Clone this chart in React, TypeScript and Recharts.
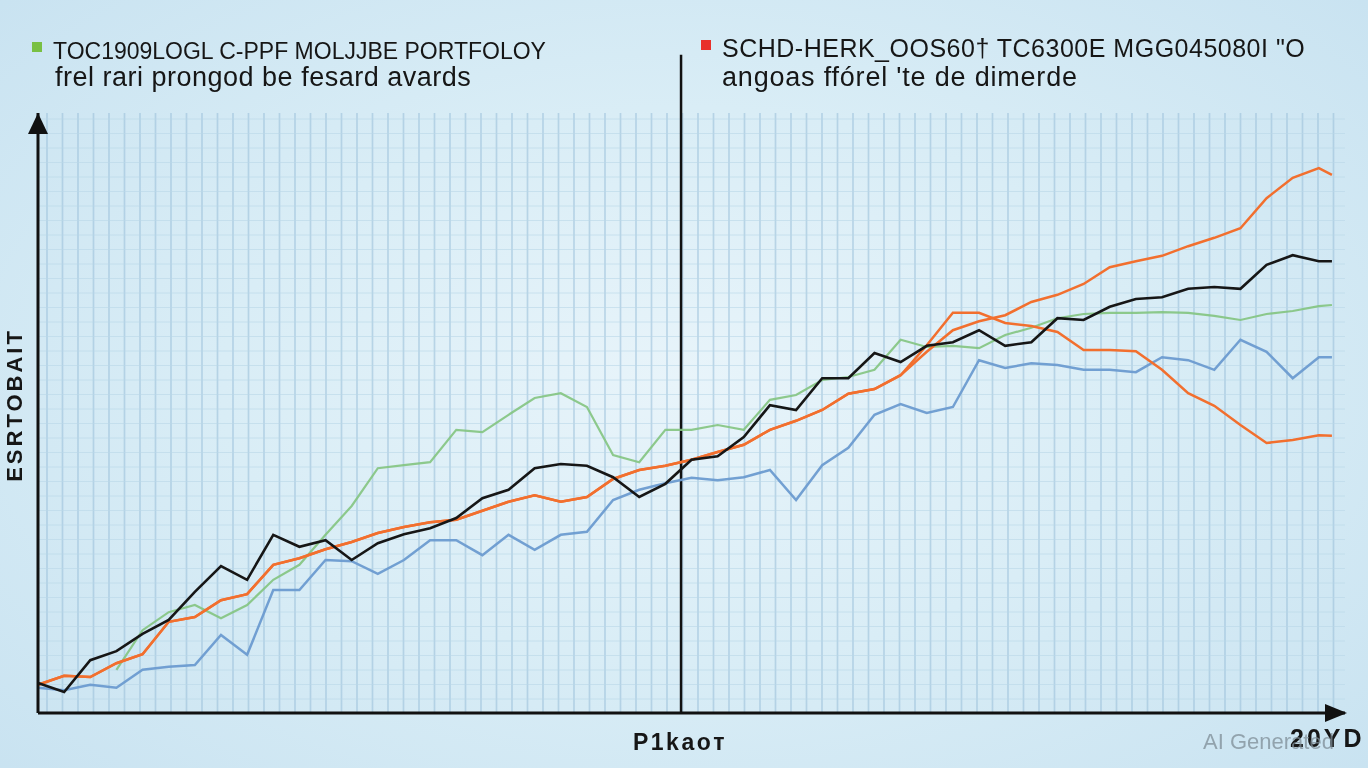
import React from "react";
import { LineChart, Line, XAxis, YAxis, CartesianGrid, ReferenceLine, ReferenceDot } from "recharts";

// x positions (time steps)
const T = [0,2,4,6,8,10,12,14,16,18,20,22,24,26,28,30,32,34,36,38,40,42,44,46,48,50,52,54,56,58,60,62,64,66,68,70,72,74,76,78,80,82,84,86,88,90,92,94,96,98,99];

const BLACK = [5.0,3.5,8.8,10.3,13.2,15.5,20.2,24.5,22.2,29.7,27.7,28.8,25.5,28.3,29.8,30.8,32.5,35.8,37.2,40.8,41.5,41.2,39.3,36.0,38.2,42.2,42.8,46.0,51.3,50.5,55.8,55.8,60.0,58.5,61.2,61.8,63.8,61.2,61.8,65.8,65.5,67.7,69.0,69.3,70.7,71.0,70.7,74.7,76.3,75.3,75.3];

const ORANGE_SHARED = [4.7,6.2,6.0,8.3,9.8,15.2,16.0,18.8,19.8,24.7,25.8,27.3,28.5,30.0,31.0,31.8,32.2,33.7,35.2,36.3,35.2,36.0,39.0,40.5,41.2,42.2,43.5,44.7,47.2,48.7,50.5,53.2,54.0,56.3];
const ORANGE_UP = [60.2,63.8,65.3,66.3,68.5,69.7,71.5,74.3,75.3,76.2,77.8,79.2,80.8,85.8,89.2,90.8,89.7];
const ORANGE_DOWN = [61.3,66.7,66.7,65.0,64.5,63.5,60.5,60.5,60.3,57.2,53.3,51.2,48.0,45.0,45.5,46.3,46.2];

const GREEN = [null,null,null,7.2,13.8,16.8,18.0,15.8,18.0,22.2,24.7,29.7,34.5,40.8,41.3,41.8,47.2,46.8,49.7,52.5,53.3,51.0,43.0,41.8,47.2,47.2,48.0,47.2,52.2,53.0,55.5,56.0,57.2,62.2,61.0,61.2,60.8,63.0,64.2,65.8,66.5,66.7,66.7,66.8,66.7,66.2,65.5,66.5,67.0,67.8,68.0];

const BLUE = [4.2,3.8,4.7,4.2,7.2,7.7,8.0,13.0,9.7,20.5,20.5,25.5,25.3,23.2,25.5,28.8,28.8,26.3,29.7,27.2,29.7,30.2,35.5,37.2,38.3,39.2,38.8,39.3,40.5,35.5,41.3,44.2,49.7,51.5,50.0,51.0,58.8,57.5,58.3,58.0,57.2,57.2,56.8,59.3,58.8,57.2,62.2,60.2,55.8,59.3,59.3];

const DIVIDER_X = 49.2;

const LEGEND_1 = ["TOC1909LOGL C-PPF MOLJJBE PORTFOLOY", "frel rari prongod be fesard avards"];
const LEGEND_2 = ["SCHD-HERK_OOS60† TC6300E MGG045080I \"O", "angoas ffórel 'te de dimerde"];
const Y_LABEL = "ESRTOBAIT";
const X_LABEL = "P1kaoт";
const X_END_LABEL = "20YD";
const WATERMARK = "AI Generated";

const ORANGE_UP_FULL = [...ORANGE_SHARED, ...ORANGE_UP];
const ORANGE_DOWN_FULL = [...ORANGE_SHARED, ...ORANGE_DOWN];

const data = T.map((t, i) => ({
  t,
  black: BLACK[i],
  orangeUp: ORANGE_UP_FULL[i],
  orangeDown: ORANGE_DOWN_FULL[i],
  green: GREEN[i],
  blue: BLUE[i],
}));

const FONT = '"Liberation Sans", Arial, Helvetica, sans-serif';

const vGen = (props: any) => {
  const off = props && props.offset ? props.offset : { left: 38, width: 1307 };
  const arr: number[] = [];
  for (let x = off.left + 9; x < off.left + off.width - 5; x += 15.5) arr.push(x);
  return arr;
};
const hGen = (props: any) => {
  const off = props && props.offset ? props.offset : { top: 113, height: 600 };
  const arr: number[] = [];
  for (let y = off.top + off.height - 14; y > off.top; y -= 14.5) arr.push(y);
  return arr;
};

const ArrowRight = (p: any) => {
  const { cx, cy } = p;
  if (cx == null || cy == null) return null;
  return <path d={`M${cx - 20},${cy - 9} L${cx + 2},${cy} L${cx - 20},${cy + 9} Z`} fill="#111" />;
};
const ArrowUp = (p: any) => {
  const { cx, cy } = p;
  if (cx == null || cy == null) return null;
  return <path d={`M${cx - 10},${cy + 21} L${cx},${cy} L${cx + 10},${cy + 21} Z`} fill="#111" />;
};

const txt = (extra: React.CSSProperties): React.CSSProperties => ({
  position: "absolute",
  whiteSpace: "nowrap",
  fontFamily: FONT,
  color: "#161616",
  ...extra,
});

export default function App() {
  return (
    <div
      style={{
        position: "fixed",
        left: 0,
        top: 0,
        width: 1368,
        height: 768,
        overflow: "hidden",
        background:
          "radial-gradient(ellipse 75% 80% at 50% 50%, #e8f4fa 0%, #d9edf6 45%, #c6e1f0 100%)",
      }}
    >
      <div style={{ position: "absolute", left: 0, top: 0 }}>
        <LineChart width={1368} height={768} data={data} margin={{ top: 113, right: 23, bottom: 54, left: 37 }}>
          <CartesianGrid horizontal={false} vertical={true} verticalCoordinatesGenerator={vGen} stroke="#9cc2da" strokeOpacity={0.6} strokeWidth={1.7} />
          <CartesianGrid horizontal={true} vertical={false} horizontalCoordinatesGenerator={hGen} stroke="#b9d7e8" strokeOpacity={0.6} strokeWidth={1} />
          <XAxis
            type="number"
            dataKey="t"
            domain={[0, 100]}
            height={1}
            tick={false}
            tickLine={false}
            axisLine={{ stroke: "#111", strokeWidth: 3 }}
          />
          <YAxis
            type="number"
            domain={[0, 100]}
            width={1}
            tick={false}
            tickLine={false}
            axisLine={{ stroke: "#111", strokeWidth: 3 }}
          />
          <ReferenceLine
            segment={[{ x: DIVIDER_X, y: 0 }, { x: DIVIDER_X, y: 109.7 }]}
            stroke="#111"
            strokeWidth={2.5}
            ifOverflow="visible"
          />
          <Line type="linear" dataKey="green" stroke="#83c47f" strokeWidth={2.2} strokeOpacity={0.9} dot={false} isAnimationActive={false} />
          <Line type="linear" dataKey="blue" stroke="#6c9bd0" strokeWidth={2.5} strokeOpacity={0.95} dot={false} isAnimationActive={false} />
          <Line type="linear" dataKey="orangeDown" stroke="#f26f2e" strokeWidth={2.5} dot={false} isAnimationActive={false} />
          <Line type="linear" dataKey="orangeUp" stroke="#f26f2e" strokeWidth={2.5} dot={false} isAnimationActive={false} />
          <Line type="linear" dataKey="black" stroke="#161616" strokeWidth={2.6} dot={false} isAnimationActive={false} />
          <ReferenceDot x={100} y={0} r={0} ifOverflow="visible" shape={ArrowRight} />
          <ReferenceDot x={0} y={100} r={0} ifOverflow="visible" shape={ArrowUp} />
        </LineChart>
      </div>

      {/* legend 1 */}
      <div style={{ position: "absolute", left: 32, top: 42, width: 10, height: 10, background: "#79c043" }} />
      <div style={txt({ left: 53, top: 39.5, fontSize: 23, lineHeight: "23px" })}>{LEGEND_1[0]}</div>
      <div style={txt({ left: 55, top: 64, fontSize: 27, lineHeight: "27px", letterSpacing: 0.5 })}>{LEGEND_1[1]}</div>

      {/* legend 2 */}
      <div style={{ position: "absolute", left: 701, top: 40, width: 10, height: 10, background: "#e8302a" }} />
      <div style={txt({ left: 722, top: 36, fontSize: 25, lineHeight: "25px", letterSpacing: 0.5 })}>{LEGEND_2[0]}</div>
      <div style={txt({ left: 722, top: 64, fontSize: 27, lineHeight: "27px", letterSpacing: 0.8 })}>{LEGEND_2[1]}</div>

      {/* y label */}
      <div
        style={txt({
          left: 15,
          top: 405,
          fontSize: 22,
          lineHeight: "22px",
          fontWeight: 700,
          letterSpacing: 3,
          transform: "translate(-50%, -50%) rotate(-90deg)",
        })}
      >
        {Y_LABEL}
      </div>

      {/* x labels */}
      <div style={txt({ left: 680, top: 730.5, fontSize: 23, lineHeight: "23px", fontWeight: 700, letterSpacing: 2.5, transform: "translateX(-50%)" })}>
        {X_LABEL}
      </div>
      <div style={txt({ left: 1290, top: 726, fontSize: 25, lineHeight: "25px", fontWeight: 700, letterSpacing: 3 })}>{X_END_LABEL}</div>
      <div style={txt({ left: 1203, top: 731, fontSize: 22, lineHeight: "22px", color: "rgba(125,140,150,0.75)" })}>{WATERMARK}</div>
    </div>
  );
}
